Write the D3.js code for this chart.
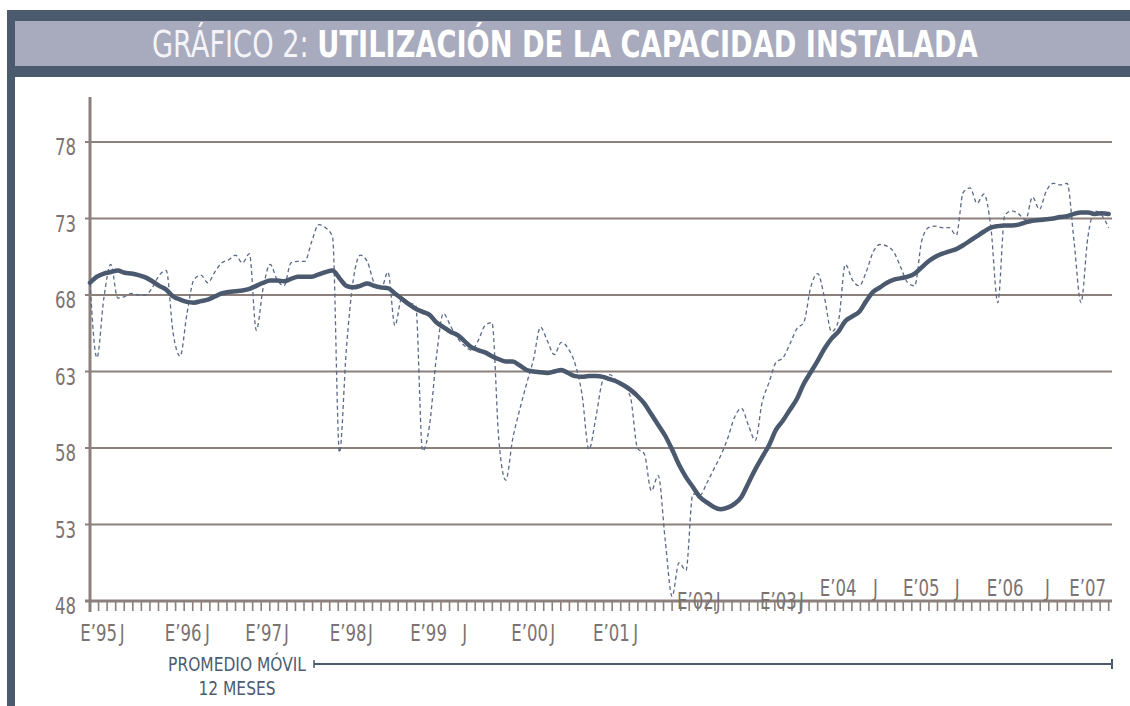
<!DOCTYPE html>
<html><head><meta charset="utf-8">
<script src="https://cdn.jsdelivr.net/npm/d3@7"></script>
<style>body{margin:0;background:#fff}svg{display:block}</style>
</head><body>
<svg id="c" width="1130" height="706"></svg>
<script>
// Monthly capacity utilization, Jan 1995 .. Apr 2007 (index 0 = E'95)
const rawValues = [
 68.8,63.9,67.8,70.0,67.8,67.9,68.1,68.0,68.0,68.5,69.3,69.6,
 65.5,64.0,66.8,69.0,69.3,68.8,69.5,70.1,70.3,70.6,70.1,70.7,
 65.7,68.5,70.0,69.0,68.6,70.1,70.2,70.2,71.5,72.6,72.4,71.8,
 57.7,64.5,69.0,70.6,70.2,68.8,68.4,69.5,66.0,67.8,67.5,67.3,
 57.8,59.5,64.0,66.8,66.0,65.2,64.7,64.4,65.0,66.0,66.2,58.5,
 55.9,58.6,60.5,62.2,63.8,65.9,65.0,64.1,64.9,64.5,63.5,61.5,
 57.9,60.0,62.4,62.8,62.4,62.1,61.3,58.0,57.6,55.2,56.2,52.0,
 48.3,50.5,50.0,55.0,54.9,55.7,56.6,57.5,58.6,60.0,60.6,59.5,
 58.5,61.0,62.3,63.6,63.9,64.8,65.8,66.2,68.5,69.4,67.8,65.6,
 66.3,70.0,69.0,68.6,69.5,70.8,71.3,71.2,70.8,69.8,68.8,68.6,
 71.5,72.4,72.5,72.4,72.4,71.9,74.7,75.0,74.0,74.6,72.4,67.5,
 73.2,73.5,73.3,72.9,74.4,73.6,74.8,75.3,75.2,75.3,71.5,67.5,
 71.8,73.5,73.2,72.4
];
// 12-month moving average ("PROMEDIO MÓVIL 12 MESES")
const movingAvg = [
 68.8,69.2,69.4,69.5,69.6,69.45,69.4,69.3,69.15,68.9,68.6,68.35,
 67.9,67.7,67.55,67.5,67.6,67.7,67.9,68.1,68.2,68.25,68.3,68.4,
 68.6,68.8,68.95,68.95,68.9,69.05,69.2,69.2,69.2,69.35,69.5,69.6,
 69.1,68.6,68.5,68.6,68.75,68.6,68.5,68.45,68.1,67.75,67.4,67.1,
 66.9,66.7,66.2,65.9,65.6,65.4,65.0,64.6,64.4,64.25,64.0,63.8,
 63.65,63.65,63.4,63.1,63.0,62.95,62.9,63.0,63.1,62.9,62.7,62.65,
 62.7,62.7,62.65,62.5,62.35,62.1,61.8,61.4,60.9,60.2,59.5,58.8,
 57.9,56.9,56.1,55.45,54.8,54.45,54.15,54.0,54.1,54.35,54.8,55.7,
 56.6,57.4,58.2,59.2,59.8,60.5,61.2,62.2,62.95,63.7,64.5,65.15,
 65.6,66.3,66.6,66.9,67.6,68.2,68.5,68.8,69.0,69.1,69.2,69.4,
 69.8,70.2,70.5,70.7,70.85,71.0,71.25,71.55,71.85,72.15,72.4,72.5,
 72.55,72.55,72.6,72.75,72.85,72.9,72.95,73.0,73.1,73.15,73.3,73.4,
 73.4,73.3,73.35,73.3
];
const yTickValues = [48,53,58,63,68,73,78];
// x-axis labels: text, month position, row
const xLabelTexts = ["E’95","J","E’96","J","E’97","J","E’98","J","E’99","J","E’00","J","E’01","J",
                     "E’02","J","E’03","J",
                     "E’04","J","E’05","J","E’06","J","E’07"];
const xLabelMonths = [-1.4,4.3,10.8,16.6,22.4,28.0,34.6,40.1,46.2,53.7,60.8,66.4,72.6,78.4,
                      84.7,90.3,96.7,102.3,
                      105.3,113.0,117.3,124.8,129.4,137.8,141.3];
const xLabelRows = ["b","b","b","b","b","b","b","b","b","b","b","b","b","b",
                    "m","m","m","m",
                    "t","t","t","t","t","t","t"];
const titleLight = "GRÁFICO 2: ";
const titleBold = "UTILIZACIÓN DE LA CAPACIDAD INSTALADA";
const legendLines = ["PROMEDIO MÓVIL","12 MESES"];

const svg = d3.select("#c");
const FONT = "'Liberation Sans Narrow','DejaVu Sans Condensed','Roboto Condensed',sans-serif";
const DARK = "#4b5a6d", LIGHT = "#a8aabd", GRID = "#8b807c", TXT = "#7b7272";
const SX = 0.8; // horizontal compression to mimic condensed face

svg.append("rect").attr("width",1130).attr("height",706).attr("fill","#fff");
// frame
svg.append("rect").attr("x",7).attr("y",10).attr("width",1123).attr("height",67).attr("fill",DARK);
svg.append("rect").attr("x",15).attr("y",21).attr("width",1115).attr("height",45).attr("fill",LIGHT);
svg.append("rect").attr("x",7).attr("y",10).attr("width",8).attr("height",696).attr("fill",DARK);

// title
const title = svg.append("text").attr("font-family",FONT).attr("font-size",37).attr("fill","#fff");
title.append("tspan").attr("font-weight","300").attr("fill","#f4f4f8").text(titleLight);
title.append("tspan").attr("font-weight","bold").text(titleBold);
{
  const w = title.node().getComputedTextLength();
  title.attr("transform",`translate(152,57) scale(${826/w},1)`);
}

const x = d3.scaleLinear().domain([0, rawValues.length-1]).range([90, 1108.7]);
const y = d3.scaleLinear().domain([48,78]).range([601,142]);

// gridlines
svg.append("g").selectAll("line").data(yTickValues).join("line")
  .attr("x1",85).attr("x2",1112).attr("y1",d=>y(d)).attr("y2",d=>y(d))
  .attr("stroke",GRID).attr("stroke-width",d=>d===48?3:2);
// y axis line
svg.append("line").attr("x1",90).attr("x2",90).attr("y1",97).attr("y2",612)
  .attr("stroke",GRID).attr("stroke-width",3);
// bottom ticks
const nT = 119;
svg.append("g").selectAll("line").data(d3.range(1,nT+1)).join("line")
  .attr("x1",k=>x(k*(rawValues.length-1)/nT)).attr("x2",k=>x(k*(rawValues.length-1)/nT))
  .attr("y1",602).attr("y2",611).attr("stroke",GRID).attr("stroke-width",1.6);

// y labels
svg.append("g").selectAll("text").data(yTickValues).join("text")
  .attr("transform",d=>`translate(76,${y(d)+13}) scale(${SX},1)`).attr("text-anchor","end")
  .attr("font-family",FONT).attr("font-size",23).attr("fill",TXT).text(d=>d);

// series
const idx = d3.range(rawValues.length);
svg.append("path").datum(idx)
  .attr("d", d3.line().x(i=>x(i)).y(i=>y(rawValues[i])).curve(d3.curveMonotoneX))
  .attr("fill","none").attr("stroke","#5a6a86").attr("stroke-width",1.3)
  .attr("stroke-dasharray","4,3");
svg.append("path").datum(idx)
  .attr("d", d3.line().x(i=>x(i)).y(i=>y(movingAvg[i])).curve(d3.curveMonotoneX))
  .attr("fill","none").attr("stroke","#4a596e").attr("stroke-width",4.5)
  .attr("stroke-linejoin","round").attr("stroke-linecap","round");

// x labels
const rowY = {b:641, m:609, t:596};
svg.append("g").selectAll("text").data(d3.range(xLabelTexts.length)).join("text")
  .attr("transform",i=>`translate(${x(xLabelMonths[i])},${rowY[xLabelRows[i]]}) scale(${SX},1)`)
  .attr("font-family",FONT).attr("font-size",23).attr("fill",TXT)
  .text(i=>xLabelTexts[i]);

// legend
svg.append("g").selectAll("text").data(legendLines).join("text")
  .attr("transform",(d,i)=>`translate(237,${i?695:671}) scale(0.86,1)`).attr("text-anchor","middle")
  .attr("font-family",FONT).attr("font-size",20).attr("font-weight","500").attr("fill","#4d5c74").text(d=>d);
svg.append("line").attr("x1",314).attr("x2",1112).attr("y1",664).attr("y2",664)
  .attr("stroke",DARK).attr("stroke-width",2);
svg.append("line").attr("x1",314).attr("x2",314).attr("y1",660).attr("y2",668).attr("stroke",DARK).attr("stroke-width",1.5);
svg.append("line").attr("x1",1112).attr("x2",1112).attr("y1",659).attr("y2",669).attr("stroke",DARK).attr("stroke-width",2);
</script>
</body></html>
